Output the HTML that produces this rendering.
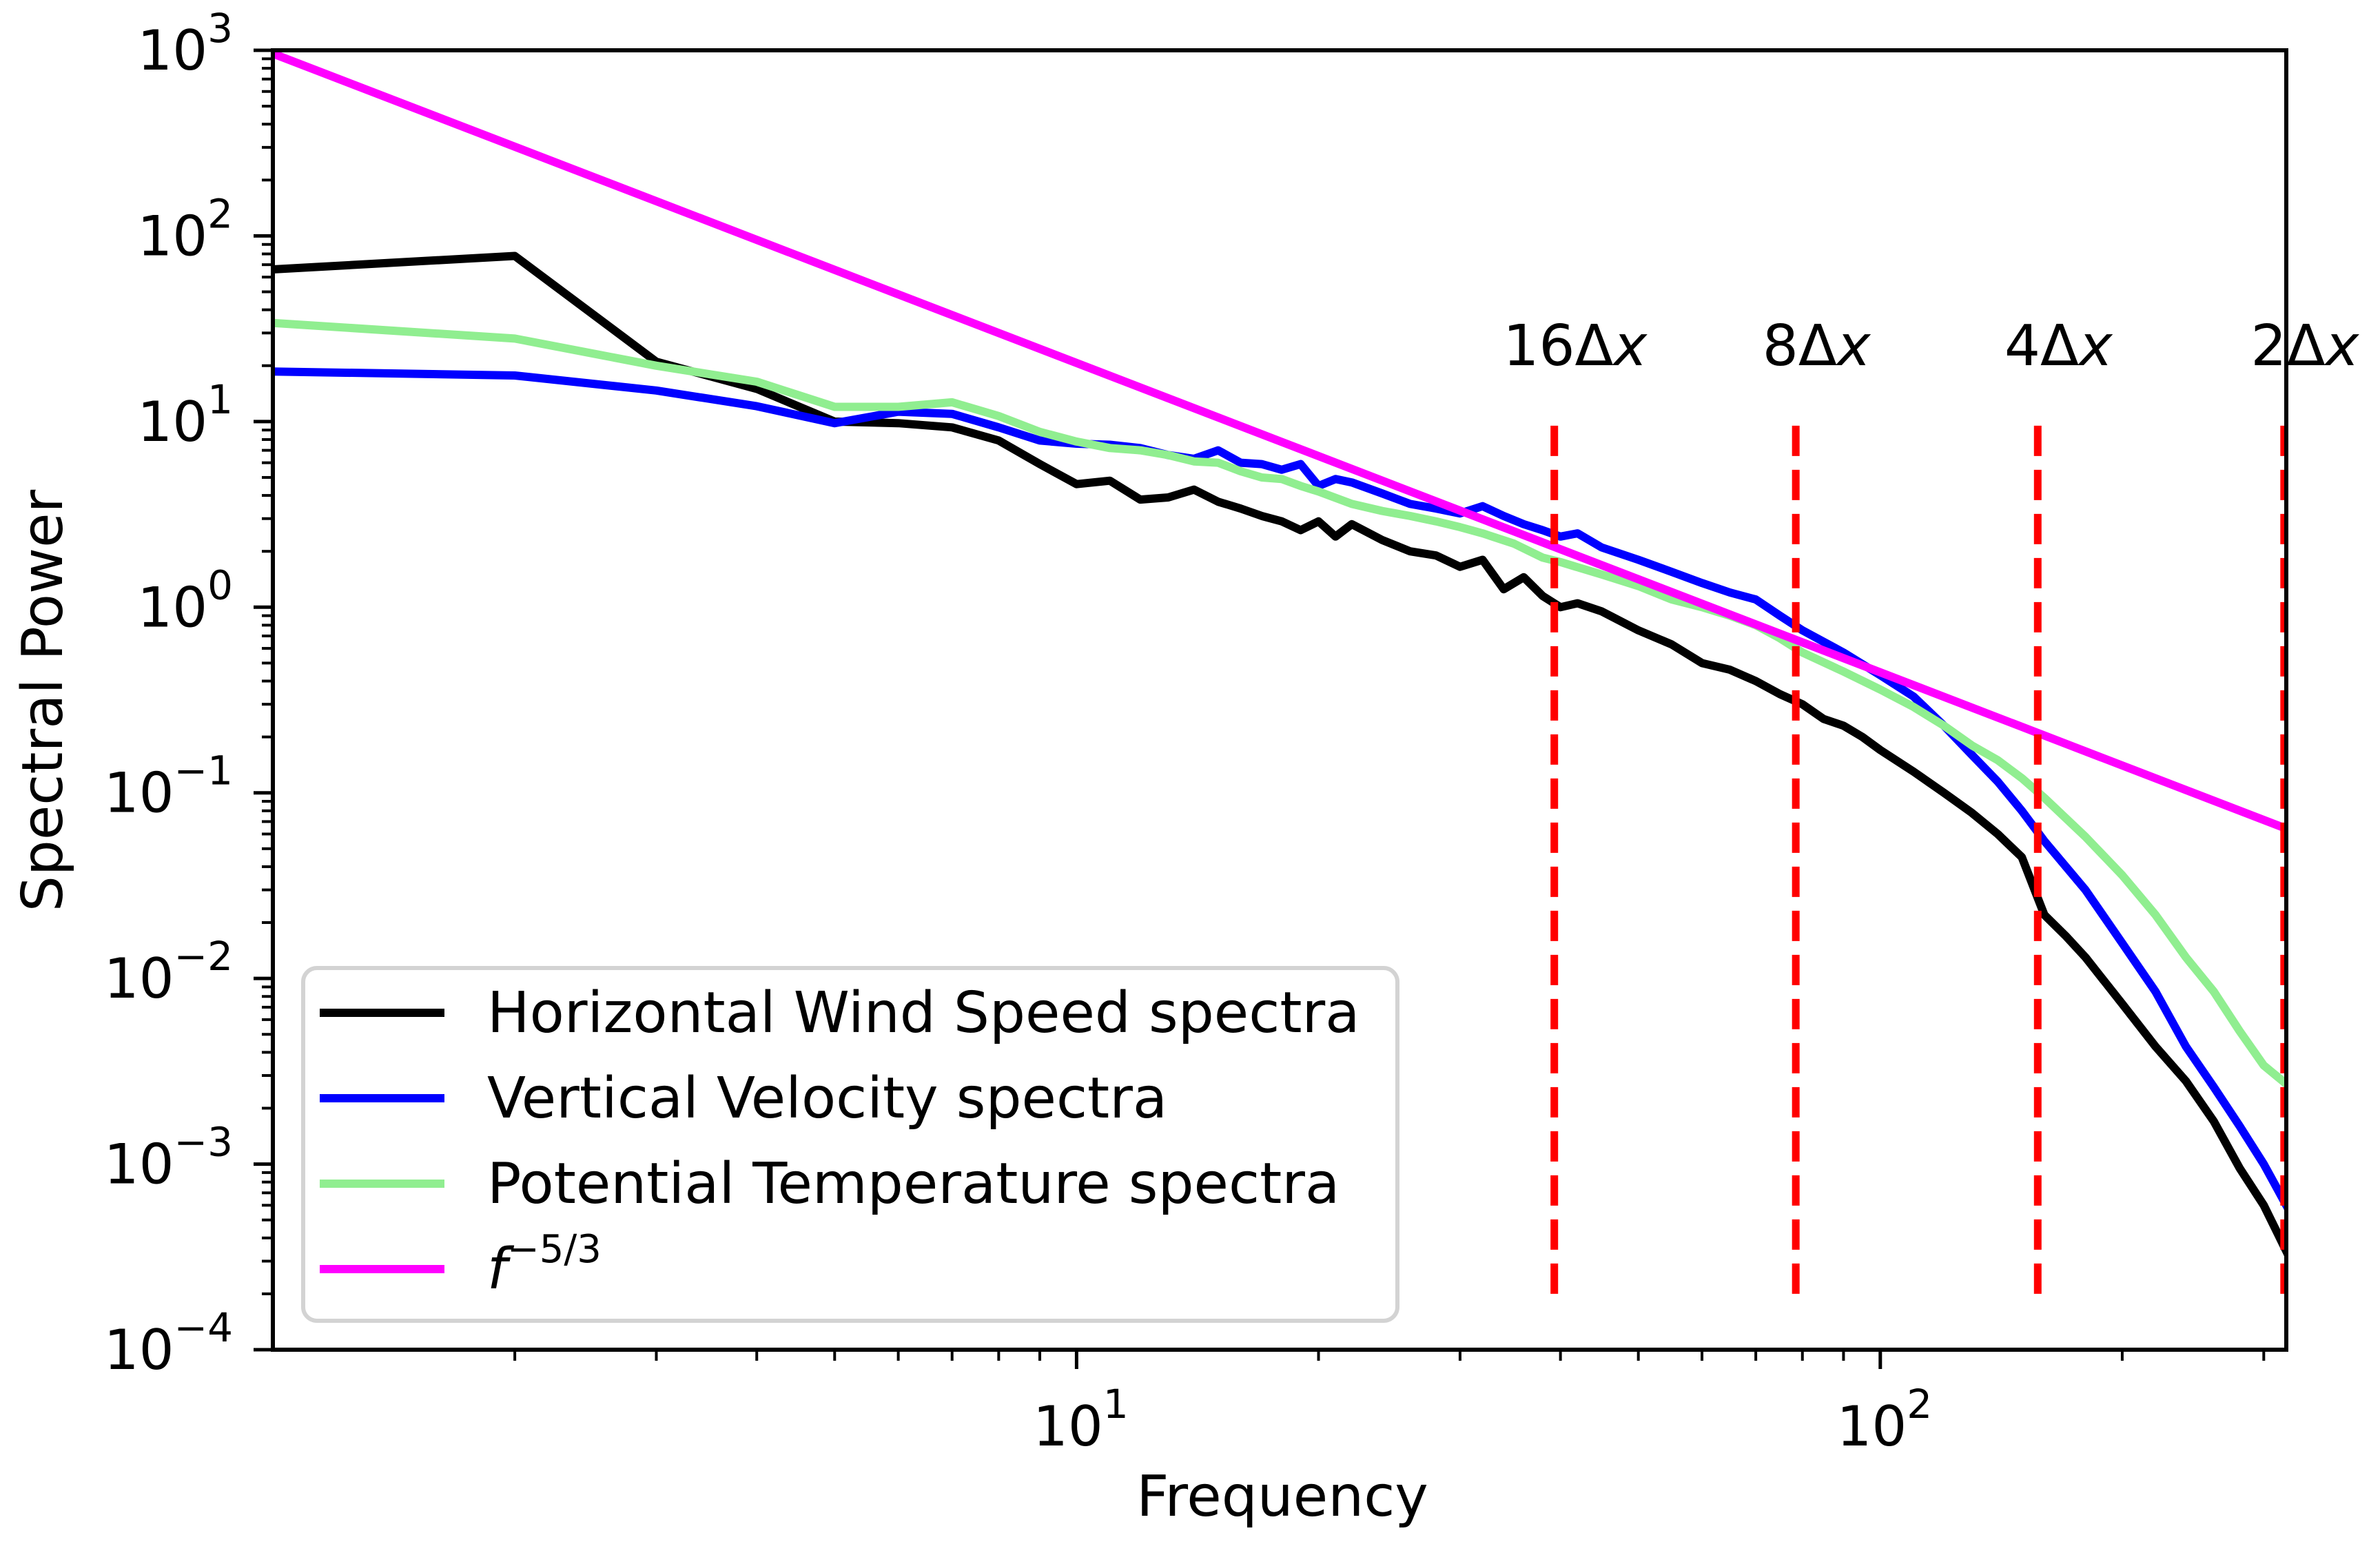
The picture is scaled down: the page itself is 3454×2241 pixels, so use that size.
<!DOCTYPE html>
<html><head><meta charset="utf-8"><style>
html,body{margin:0;padding:0;background:#fff}
svg{display:block}
text{font-family:"DejaVu Sans","Liberation Sans",sans-serif;fill:#000}
</style></head><body>
<svg id="chart" width="3454" height="2241" viewBox="0 0 3454 2241" xmlns="http://www.w3.org/2000/svg">
<rect x="0" y="0" width="3454" height="2241" fill="#fff"/>
<defs><clipPath id="plotclip"><rect x="396" y="73" width="2922" height="1886"/></clipPath></defs>
<g id="series-layer" clip-path="url(#plotclip)"></g>
<g id="axes-layer"></g>
</svg>
<script>
const hwFreq = [1,2,3,4,5,6,7,8,9,10,11,12,13,14,15,16,17,18,19,20,21,22,24,26,28,30,32,34,36,38,40,42,45,50,55,60,65,70,75,80,85,90,95,100,110,120,130,140,150,160,170,180,200,220,240,260,280,300,320];
const hwVals = [66,78,21,15,10,9.8,9.3,7.9,5.9,4.6,4.8,3.8,3.9,4.3,3.7,3.4,3.1,2.9,2.6,2.9,2.4,2.8,2.3,2.0,1.9,1.65,1.8,1.25,1.45,1.15,1.0,1.05,0.95,0.75,0.63,0.5,0.46,0.4,0.34,0.3,0.25,0.23,0.2,0.17,0.13,0.1,0.078,0.06,0.045,0.022,0.017,0.013,0.0073,0.0043,0.0028,0.0017,0.00095,0.0006,0.00034];
const vvFreq = [1,2,3,4,5,6,7,8,9,10,11,12,13,14,15,16,17,18,19,20,21,22,24,26,28,30,32,34,36,38,40,42,45,50,55,60,65,70,75,80,90,100,110,120,130,140,150,160,180,200,220,240,260,280,300,320];
const vvVals = [18.6,17.7,14.7,12.1,9.8,11.3,11,9.3,7.9,7.6,7.5,7.2,6.6,6.3,7.0,6.0,5.9,5.5,5.9,4.5,4.9,4.7,4.1,3.6,3.4,3.2,3.5,3.1,2.8,2.6,2.4,2.5,2.1,1.8,1.55,1.35,1.2,1.1,0.9,0.75,0.57,0.43,0.33,0.23,0.16,0.115,0.08,0.055,0.030,0.0155,0.0085,0.0043,0.0026,0.0016,0.001,0.0006];
const ptFreq = [1,2,3,4,5,6,7,8,9,10,11,12,13,14,15,16,17,18,19,20,22,24,26,28,30,32,35,38,40,45,50,55,60,65,70,75,80,90,100,110,120,130,140,150,160,180,200,220,240,260,280,300,320];
const ptVals = [34,28,20,16.4,12,12,12.7,10.7,8.8,7.8,7.2,7.0,6.6,6.1,6.0,5.4,5.0,4.9,4.5,4.2,3.6,3.3,3.1,2.9,2.7,2.5,2.2,1.85,1.75,1.5,1.3,1.1,1.0,0.9,0.8,0.68,0.57,0.45,0.36,0.29,0.23,0.18,0.15,0.12,0.094,0.058,0.036,0.022,0.013,0.0085,0.0052,0.0034,0.0027];
const refCoef = 960;
const refExponent = -5/3;
const refFreq = [1,320];
const markerFreqs = [39.3,78.5,157,318];
const markerLabels = ["16Δ","8Δ","4Δ","2Δ"];
const markerRange = [0.0002,10];
const yTickExps = [-4,-3,-2,-1,0,1,2,3];
const xTickExps = [1,2];

const PL=396, PR=3318, PT=73, PB=1959;
const XMIN=0, XMAX=Math.log10(320), YMIN=-4, YMAX=3;
const NS="http://www.w3.org/2000/svg";
function xs(f){return PL+(Math.log10(f)-XMIN)/(XMAX-XMIN)*(PR-PL);}
function ys(v){return PB-(Math.log10(v)-YMIN)/(YMAX-YMIN)*(PB-PT);}
function mk(tag,attrs,parent){const e=document.createElementNS(NS,tag);for(const k in attrs)e.setAttribute(k,attrs[k]);parent.appendChild(e);return e;}
const series=document.getElementById('series-layer');
const axes=document.getElementById('axes-layer');

function drawLine(fr,vals,color,name){
  const pts=fr.map((f,i)=>xs(f).toFixed(1)+','+ys(vals[i]).toFixed(1)).join(' ');
  const p=mk('polyline',{points:pts,fill:'none',stroke:color,'stroke-width':12,'stroke-linejoin':'round','stroke-linecap':'square'},series);
  
  
}
drawLine(hwFreq,hwVals,'#000000','horizontal-wind-speed-line');
drawLine(vvFreq,vvVals,'#0000ff','vertical-velocity-line');
drawLine(ptFreq,ptVals,'#90ee90','potential-temperature-line');
drawLine(refFreq,refFreq.map(f=>refCoef*Math.pow(f,refExponent)),'#ff00ff','f-minus-five-thirds-line');

markerFreqs.forEach((f,i)=>{
  const l=mk('line',{x1:xs(f),x2:xs(f),y1:ys(markerRange[0]),y2:ys(markerRange[1]),stroke:'#ff0000','stroke-width':11,'stroke-dasharray':'44 20'},series);
  
  
  const t=mk('text',{x:xs(f)+30,y:530,'font-size':82,'text-anchor':'middle'},axes);
  
  
  t.textContent=markerLabels[i];
  const it=mk('tspan',{'font-style':'italic'},t);
  it.textContent='x';
});

const frame=mk('rect',{x:PL,y:PT,width:PR-PL,height:PB-PT,fill:'none',stroke:'#000','stroke-width':6},axes);



for(let e=YMIN;e<=YMAX;e++){
  const y=ys(Math.pow(10,e));
  mk('line',{x1:PL-28,x2:PL,y1:y,y2:y,stroke:'#000','stroke-width':5},axes);
  if(e<YMAX){for(let m=2;m<=9;m++){const yy=ys(m*Math.pow(10,e));mk('line',{x1:PL-16,x2:PL,y1:yy,y2:yy,stroke:'#000','stroke-width':4},axes);}}
}
yTickExps.forEach(e=>{
  const y=ys(Math.pow(10,e));
  const t=mk('text',{x:PL-58,y:y+28,'font-size':80,'text-anchor':'end'},axes);
  
  
  const a=mk('tspan',{},t);a.textContent='10';
  const b=mk('tspan',{'font-size':58,dy:-40},t);b.textContent=(e<0?'\u2212':'')+Math.abs(e);
});
for(let d=0;d<=2;d++){
  for(let m=1;m<=9;m++){
    const f=m*Math.pow(10,d); if(f>320)break;
    const x=xs(f); if(x<PL+1)continue;
    const major=(m===1);
    mk('line',{x1:x,x2:x,y1:PB,y2:PB+(major?28:16),stroke:'#000','stroke-width':major?5:4},axes);
  }
}
xTickExps.forEach(e=>{
  const x=xs(Math.pow(10,e));
  const t=mk('text',{x:x+6,y:2098,'font-size':80,'text-anchor':'middle'},axes);
  
  
  const a=mk('tspan',{},t);a.textContent='10';
  const b=mk('tspan',{'font-size':58,dy:-40},t);b.textContent=String(e);
});
</script>
<svg style="position:absolute;left:0;top:0" width="3454" height="2241" xmlns="http://www.w3.org/2000/svg">
<text x="1861" y="2200" font-size="82" text-anchor="middle">Frequency</text>
<text x="0" y="0" font-size="82" text-anchor="middle" transform="translate(90,1017) rotate(-90)">Spectral Power</text>
<g>
<rect x="440" y="1405" width="1588" height="512" rx="20" ry="20" fill="#fff" fill-opacity="0.8" stroke="#d3d3d3" stroke-width="6"/>
<line x1="464" x2="645" y1="1470" y2="1470" stroke="#000" stroke-width="12"/>
<text x="707" y="1498" font-size="82">Horizontal Wind Speed spectra</text>
<line x1="464" x2="645" y1="1594" y2="1594" stroke="#0000ff" stroke-width="12"/>
<text x="707" y="1622" font-size="82">Vertical Velocity spectra</text>
<line x1="464" x2="645" y1="1718" y2="1718" stroke="#90ee90" stroke-width="12"/>
<text x="707" y="1746" font-size="82">Potential Temperature spectra</text>
<line x1="464" x2="645" y1="1842" y2="1842" stroke="#ff00ff" stroke-width="12"/>
<text x="707" y="1870" font-size="82"><tspan font-style="italic">f</tspan><tspan font-size="56" dy="-38">−5/3</tspan></text>
</g>
</svg>
</body></html>
